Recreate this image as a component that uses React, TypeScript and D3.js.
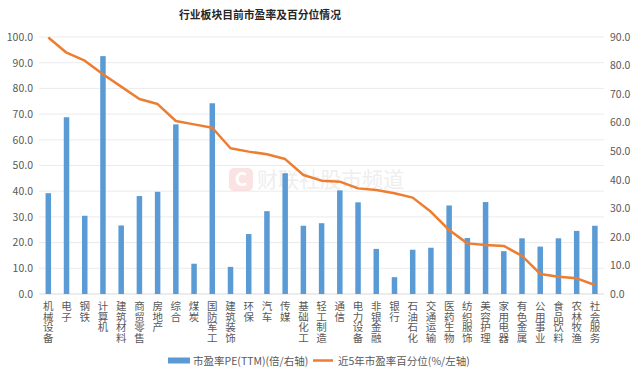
import React from "react";
import * as d3 from "d3";

const categories = ["机械设备","电子","钢铁","计算机","建筑材料","商贸零售","房地产","综合","煤炭","国防军工","建筑装饰","环保","汽车","传媒","基础化工","轻工制造","通信","电力设备","非银金融","银行","石油石化","交通运输","医药生物","纺织服饰","美容护理","家用电器","有色金属","公用事业","食品饮料","农林牧渔","社会服务"];
// PE(TTM), right axis (0-90)
const peValues = [35.3,61.9,27.4,83.3,24.0,34.3,35.8,59.4,10.6,66.8,9.5,21.0,29.0,42.3,23.9,24.8,36.3,32.1,15.8,5.9,15.5,16.2,31.0,19.6,32.2,15.0,19.5,16.6,19.5,22.1,23.9];
// 5-year percentile, left axis (0-100)
const pctValues = [99.8,93.9,90.8,85.5,80.7,75.9,73.9,67.3,66.0,64.7,56.7,55.4,54.4,52.5,46.3,44.1,43.7,41.1,40.5,39.2,37.5,32.0,24.9,19.7,19.1,18.7,14.8,7.8,6.7,6.1,3.5];
const leftTicks = [0,10,20,30,40,50,60,70,80,90,100];
const rightTicks = [0,10,20,30,40,50,60,70,80,90];

const title = "行业板块目前市盈率及百分位情况";
const legendBar = "市盈率PE(TTM)(倍/右轴)";
const legendLine = "近5年市盈率百分位(%/左轴)";
const watermark = "财联社股市频道";

export default function App() {
  const W = 640, H = 378;
  const left = 39.2, right = 604, top = 37, bottom = 294;
  const font = "'Noto Sans CJK SC', 'Noto Sans', sans-serif";
  const x = d3.scalePoint<string>().domain(categories).range([left, right]).padding(0.5);
  const yL = d3.scaleLinear().domain([0, 100]).range([bottom, top]);
  const yR = d3.scaleLinear().domain([0, 90]).range([bottom, top]);
  const fmt = d3.format(".1f");
  const line = d3.line<number>().x((_, i) => x(categories[i])!).y(d => yL(d));
  const barW = 5.5;
  const axisColor = "#595959";

  return (
    <svg width={W} height={H} style={{ position: "fixed", left: 0, top: 0, background: "#fff" }} fontFamily={font}>
      <rect x={0} y={0} width={W} height={H} fill="#fff" />
      <text x={260} y={19} textAnchor="middle" fontSize={10.8} fontWeight="bold" fill="#262626">{title}</text>
      {leftTicks.map(t => (
        <line key={"g" + t} x1={left} x2={right} y1={yL(t)} y2={yL(t)} stroke={t === 0 ? "#d9d9d9" : "#ebebeb"} strokeWidth={1} />
      ))}
      {leftTicks.map(t => (
        <text key={"l" + t} x={33} y={yL(t) + 3.8} textAnchor="end" fontSize={10.5} fill={axisColor}>{fmt(t)}</text>
      ))}
      {rightTicks.map(t => (
        <text key={"r" + t} x={610} y={yR(t) + 3.8} textAnchor="start" fontSize={10.5} fill={axisColor}>{fmt(t)}</text>
      ))}
      {/* watermark */}
      <g opacity={0.3}>
        <rect x={229} y={168} width={24} height={23} rx={5} fill="#f4a6a6" />
        <text x={241} y={186} textAnchor="middle" fontSize={19} fontWeight="bold" fill="#fff">C</text>
        <text x={257} y={187} fontSize={21} fill="#c8c8c8">{watermark}</text>
      </g>
      {peValues.map((v, i) => (
        <rect key={"b" + i} x={x(categories[i])! - barW / 2} y={yR(v)} width={barW} height={yR(0) - yR(v)} fill="#5B9BD5" />
      ))}
      <path d={line(pctValues) || ""} fill="none" stroke="#ED7D31" strokeWidth={2.5} strokeLinejoin="round" />
      {categories.map((c, i) => (
        <text key={"x" + i} fontSize={10.5} fill={axisColor} textAnchor="middle">
          {c.split("").map((ch, j) => (
            <tspan key={j} x={x(c)!} y={310 + j * 10.7}>{ch}</tspan>
          ))}
        </text>
      ))}
      {/* legend */}
      <rect x={168} y={357.5} width={22} height={6} fill="#5B9BD5" />
      <text x={193} y={364.5} fontSize={10.5} fill={axisColor}>{legendBar}</text>
      <line x1={313} x2={333} y1={360.5} y2={360.5} stroke="#ED7D31" strokeWidth={2.5} />
      <text x={338} y={364.5} fontSize={10.5} fill={axisColor}>{legendLine}</text>
    </svg>
  );
}
